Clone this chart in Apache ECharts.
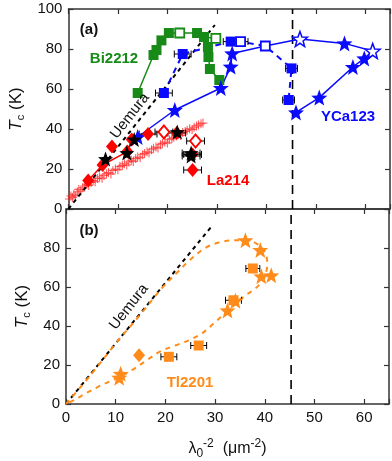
<!DOCTYPE html>
<html><head><meta charset="utf-8">
<script src="https://cdn.jsdelivr.net/npm/echarts@6/dist/echarts.min.js"></script>
<style>html,body{margin:0;padding:0;background:#fff}#c{width:392px;height:461px}</style>
</head><body><div id="c"></div>
<script>
// ---------- data (x = lambda0^-2 in um^-2, y = Tc in K) ----------
const xTickLabels = [0,10,20,30,40,50,60];
const yTickLabels = [0,20,40,60,80,100];
const criticalX = 45.3;
const uemuraLine = [[0,0],[29.6,92]];

const bi2212Line = [[14,58],[17.2,77],[17.8,79.5],[18.8,84.3],[20.3,88],[22.5,88],[26,88],[27.4,86],[29.8,85.3],[28.2,81],[28.3,76],[28.6,70],[30.5,64.5]];
const bi2212Filled = [[14,58],[17.2,77],[17.8,79.5],[18.8,84.3],[20.3,88],[26,88],[27.4,86],[28.2,81],[28.3,76],[28.6,70],[30.5,64.5]];
const bi2212Open = [[22.5,88],[29.8,85.3]];

const ycaSqLine = [[19.3,58],[23.1,77.5],[32.8,83.7],[34.8,83.7],[39.8,81.5],[45.1,70.3],[44.5,54.5]];
const ycaSqFilled = [[19.3,58],[23.1,77.5],[32.8,83.7],[45.1,70.3],[44.5,54.5]];
const ycaSqOpen = [[34.8,83.7],[39.8,81.5]];
const ycaSqErr = [[19.3,58,1.7],[23.1,77.5,1.7],[32.8,83.7,1.5],[34.8,83.7,1.5],[45.1,70.3,1.2],[44.5,54.5,1.2]];

const ycaStarLine = [[14,36],[21.5,49.5],[30.8,60.5],[32.8,71.2],[33.1,77.8],[39.8,81.5],[46.8,85],[55.8,82.8],[61.5,79],[59.8,75.3],[57.5,71],[50.7,55.7],[46,48.3]];
const ycaStarFilled = [[14,36],[21.5,49.5],[30.8,60.5],[32.8,71.2],[33.1,77.8],[55.8,82.8],[59.8,75.3],[57.5,71],[50.7,55.7],[46,48.3]];
const ycaStarOpen = [[46.8,85],[61.5,79]];

const laLine = [[4,14.2],[6.9,22],[11.9,28.7],[12.8,34.8],[16.1,37.5]];
const laFilled = [[4,14.2],[6.9,22],[8.8,31.3],[11.9,28.7],[12.8,34.8],[16.1,37.5],[21.9,38],[25.1,27.3],[25.1,19.5]];
const laOpen = [[19.3,38.5],[25.7,34]];
const laErr = [[16.1,37.5,1.8],[19.3,38.5,1.8],[21.9,38,1.8],[25.7,34,1.8],[25.1,27.3,1.8],[25.1,19.5,1.8]];
const laCross = [[0.2,5],[0.5,6.5],[0.8,5.8],[1.1,7.4],[1.4,6.6],[1.8,8.5],[2.1,9.8],[2.5,9],[2.9,10.6],[3.3,11.5],[3.7,12.4],[4.1,11.8],[4.6,13.3],[5,14.2],[5.4,13.6],[5.9,15.2],[6.3,16],[6.8,15.4],[7.2,16.8],[7.7,17.6],[8.1,18.2],[8.6,17.5],[9,19.3],[9.5,20],[10,19.6],[10.4,21.2],[10.9,21.8],[11.3,22.6],[11.8,22],[12.2,23.5],[12.7,24.4],[13.1,23.8],[13.6,25.2],[14,26],[14.5,25.6],[15,27.1],[15.4,27.8],[15.9,28.6],[16.3,28.1],[16.8,29.6],[17.2,30.4],[17.7,31],[18.1,30.5],[18.6,32.1],[19,32.8],[19.5,33.5],[20,33],[20.4,34.6],[20.9,35.2],[21.3,35.9],[21.8,36.5],[22.2,37.2],[22.7,36.8],[23.1,38.2],[23.6,38.8],[24,39.4],[24.5,40.1],[25,39.8],[25.4,40.9],[25.9,41.5],[26.3,42],[26.8,42.6],[27.2,43]];

const blackStars = [[7.5,25],[11.8,28],[13.3,34.8],[22,38.5],[24.8,28],[24.8,26.5]];
const blackErr = [[24.8,28,1.8],[24.8,26.5,1.8]];

const tlCurve = [[0,0],[5,15],[10,31],[15,46],[19.5,60],[22,66.5],[25,74],[28,80],[31,83],[34,84],[36.5,84],[38.5,82],[40,78],[40.5,72],[40.3,68],[39.5,63],[38,59],[36,55.5],[34,51],[32,46.5],[30,42],[27.5,36.5],[25,33],[22,30],[19,27],[16,22],[13,17],[10,13],[7,9.5],[4,5.5],[2,2.5],[0,0]];
const tlSquares = [[20.7,24.2],[26.7,30],[33.7,53.2],[37.6,69.5]];
const tlErr = [[20.7,24.2,1.6],[26.7,30,1.6],[33.7,53.2,1.6],[37.6,69.5,1.4]];
const tlStars = [[10.7,13.5],[11,15.5],[32.5,48],[34.1,53],[36.1,84],[39.1,79],[39.3,65.5],[41.3,66]];
const tlDiamond = [[14.7,25]];

// ---------- styles ----------
const FONT = 'Liberation Sans, Arial, sans-serif';
const GREEN = '#178a17', BLUE = '#0a0aff', RED = '#ff0000', ORANGE = '#ff8c1a';
const STAR = 'path://M50,0L62.5,33.5L97.55,34.55L70,57L79.39,90.45L50,71L20.61,90.45L30,57L2.45,34.55L37.5,33.5Z';
const CROSS = 'path://M4.4,0h1.2v4.4h4.4v1.2h-4.4v4.4h-1.2v-4.4h-4.4v-1.2h4.4z';
const AX = '#333';

function errItem(params, api){
  const x = api.value(0), y = api.value(1), e = api.value(2);
  const a = api.coord([x-e, y]), b = api.coord([x+e, y]);
  const st = {stroke:'#000', lineWidth:1};
  return {type:'group', children:[
    {type:'line', shape:{x1:a[0],y1:a[1],x2:b[0],y2:b[1]}, style:st},
    {type:'line', shape:{x1:a[0],y1:a[1]-3.5,x2:a[0],y2:a[1]+3.5}, style:st},
    {type:'line', shape:{x1:b[0],y1:b[1]-3.5,x2:b[0],y2:b[1]+3.5}, style:st}
  ]};
}
function errSeries(data, gi){
  return {type:'custom', xAxisIndex:gi, yAxisIndex:gi, data:data, renderItem:errItem, z:3, encode:{x:0,y:1}, silent:true};
}
function lineSeries(data, gi, color, type, width, z, smooth){
  return {type:'line', xAxisIndex:gi, yAxisIndex:gi, data:data, showSymbol:false, symbol:'none',
    lineStyle:{color:color, width:width, type:type}, z:z||2, smooth:smooth||false, silent:true, animation:false};
}
function scatter(data, gi, symbol, size, fill, border, bw, z){
  return {type:'scatter', xAxisIndex:gi, yAxisIndex:gi, data:data, symbol:symbol, symbolSize:size,
    itemStyle:{color:fill, borderColor:border||fill, borderWidth:bw||0, opacity:1}, z:z||5, silent:true};
}

const baseX = (gi, show) => ({type:'value', gridIndex:gi, min:0, max:65, interval:10,
  axisLine:{show:true, onZero:false, lineStyle:{color:AX, width:1.5}},
  axisTick:{show:true, inside:true, length:5, lineStyle:{color:AX, width:1.2}},
  splitLine:{show:false},
  axisLabel:{show:show, color:'#111', fontSize:15, fontFamily:FONT, margin:6,
    formatter:v => (xTickLabels.indexOf(v) >= 0 ? String(v) : '')}
});
const mirrorX = gi => ({type:'value', gridIndex:gi, position:'top', min:0, max:65, interval:10,
  axisLine:{show:true, onZero:false, lineStyle:{color:AX, width:1.5}},
  axisTick:{show:true, inside:true, length:5, lineStyle:{color:AX, width:1.2}},
  axisLabel:{show:false}, splitLine:{show:false}});
const yNameRich = {
  i:{fontStyle:'italic', fontSize:17, fontFamily:FONT, color:'#111'},
  s:{fontSize:11, fontFamily:FONT, color:'#111', padding:[9,0,0,0]},
  n:{fontSize:17, fontFamily:FONT, color:'#111'}
};
const baseY = (gi, hideTop) => ({type:'value', gridIndex:gi, min:0, max:100, interval:20,
  name:'{i|T}{s|c}{n| (K)}', nameLocation:'middle', nameGap:34, nameTextStyle:{rich:yNameRich},
  axisLine:{show:true, onZero:false, lineStyle:{color:AX, width:1.5}},
  axisTick:{show:true, inside:true, length:5, lineStyle:{color:AX, width:1.2}},
  splitLine:{show:false},
  axisLabel:{color:'#111', fontSize:15, fontFamily:FONT, margin:6,
    formatter:v => (yTickLabels.indexOf(v) >= 0 && !(hideTop && v === 100) ? String(v) : '')}
});
const mirrorY = gi => ({type:'value', gridIndex:gi, position:'right', min:0, max:100, interval:20,
  axisLine:{show:true, onZero:false, lineStyle:{color:AX, width:1.5}},
  axisTick:{show:true, inside:true, length:5, lineStyle:{color:AX, width:1.2}},
  axisLabel:{show:false}, splitLine:{show:false}});

const xAxes = [baseX(0,false), baseX(1,true), mirrorX(0), mirrorX(1)];
xAxes[1].name = '{l|λ}{s|0}{p|-2}{n|  (μm}{p|-2}{n|)}';
xAxes[1].nameLocation = 'middle';
xAxes[1].nameGap = 34;
xAxes[1].nameTextStyle = {rich:{
  l:{fontSize:16, fontFamily:FONT, color:'#111'},
  n:{fontSize:16, fontFamily:FONT, color:'#111'},
  s:{fontSize:12, fontFamily:FONT, color:'#111', padding:[10,0,0,0]},
  p:{fontSize:12, fontFamily:FONT, color:'#111', padding:[0,0,10,0]}
}};

const vLine = [[criticalX,0],[criticalX,100]];

const series = [
  // panel a
  {type:'scatter', xAxisIndex:0, yAxisIndex:0, data:laCross, symbol:CROSS, symbolSize:9,
    itemStyle:{color:'#ff1a1a', opacity:0.7}, z:1, silent:true},
  lineSeries(uemuraLine, 0, '#000', [4,4], 2, 2),
  lineSeries(vLine, 0, '#000', [9,6], 1.6, 2),
  lineSeries(bi2212Line, 0, GREEN, 'solid', 1.5, 2),
  lineSeries(ycaSqLine, 0, BLUE, [6,5], 2, 2),
  lineSeries(ycaStarLine, 0, BLUE, 'solid', 1.5, 2),
  lineSeries(laLine, 0, RED, 'solid', 1.5, 2),
  errSeries(ycaSqErr, 0),
  errSeries(laErr, 0),
  errSeries(blackErr, 0),
  scatter(bi2212Filled, 0, 'rect', 10, GREEN),
  scatter(bi2212Open, 0, 'rect', 9, '#fff', GREEN, 1.8),
  scatter(ycaSqFilled, 0, 'rect', 10, BLUE),
  scatter(ycaSqOpen, 0, 'rect', 9, '#fff', BLUE, 1.8),
  scatter(ycaStarFilled, 0, STAR, 16, BLUE),
  scatter(ycaStarOpen, 0, STAR, 15, '#fff', BLUE, 1.5),
  scatter(laFilled, 0, 'diamond', [12,14], RED),
  scatter(laOpen, 0, 'diamond', [11,13], '#fff', RED, 1.8),
  scatter(blackStars, 0, STAR, 15, '#000', '#000', 0, 6),
  // panel b
  lineSeries(uemuraLine, 1, '#000', [4,4], 2, 2),
  lineSeries(vLine, 1, '#000', [9,6], 1.6, 2),
  lineSeries(tlCurve, 1, ORANGE, [5,5], 2, 2, 0.35),
  errSeries(tlErr, 1),
  scatter(tlSquares, 1, 'rect', 10, ORANGE),
  scatter(tlStars, 1, STAR, 16, ORANGE),
  scatter(tlDiamond, 1, 'diamond', [12,14], ORANGE)
];

const txt = (x, y, text, color, size, bold, rot) => ({type:'text', x:x, y:y, rotation:rot||0, z:20,
  style:{text:text, fill:color, font:(bold?'bold ':'') + size + 'px ' + FONT, textAlign:'center', textVerticalAlign:'middle'}});
const uRot = 52 * Math.PI / 180;

const chart = echarts.init(document.getElementById('c'), null, {renderer:'canvas'});
chart.setOption({
  animation:false,
  grid:[{left:66, top:9, width:324, height:200}, {left:66, top:209, width:324, height:200}],
  xAxis:xAxes,
  yAxis:[baseY(0,false), baseY(1,true), mirrorY(0), mirrorY(1)],
  series:series,
  graphic:[
    txt(89, 30, '(a)', '#111', 15, true),
    txt(114, 59, 'Bi2212', GREEN, 15, true),
    txt(348, 117, 'YCa123', BLUE, 15, true),
    txt(228, 181, 'La214', RED, 15, true),
    txt(130, 116, 'Uemura', '#111', 15, false, uRot),
    txt(89, 231, '(b)', '#111', 15, true),
    txt(129, 307, 'Uemura', '#111', 15, false, uRot),
    txt(190, 383, 'Tl2201', ORANGE, 15, true)
  ]
});
</script></body></html>
